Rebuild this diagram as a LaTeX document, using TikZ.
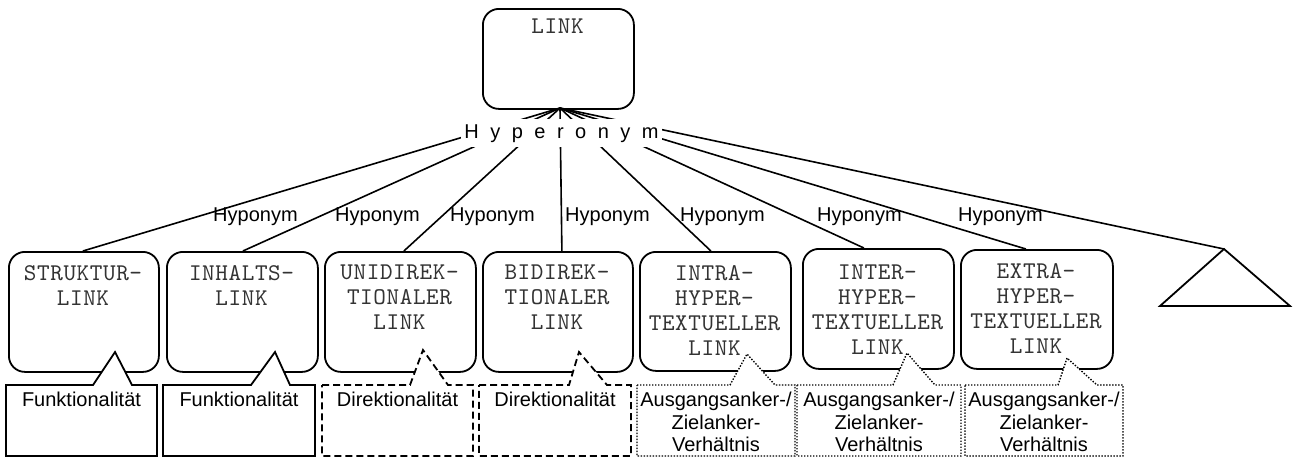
\documentclass[tikz,border=0pt]{standalone}
\usepackage{fontspec}
\setmainfont{Liberation Sans}
\newfontfamily\lmmono{lmmono10-regular.otf}[LetterSpace=2.5]
\newcommand\hypsp{\hspace{11.5pt}}
\tikzset{
  rbox/.style={draw, line width=1.8pt, rounded corners=16pt, anchor=north west, inner sep=0pt},
  btext/.style={font=\lmmono\fontsize{24}{25}\selectfont, text=black!80, align=center, anchor=north, inner sep=0pt},
  conn/.style={line width=1.6pt},
  lab/.style={font=\fontsize{20}{22.5}\selectfont, anchor=base west, inner sep=0pt},
  ctext/.style={font=\fontsize{20}{22.5}\selectfont, align=center, anchor=north, inner sep=0pt},
  csolid/.style={draw, fill=white, line width=1.8pt},
  cdash/.style={csolid, dash pattern=on 7pt off 4pt},
  cdot/.style={draw, fill=white, line width=1.4pt, dash pattern=on 1.4pt off 1.6pt},
}
\begin{document}
\begin{tikzpicture}[x=1pt,y=-1pt]
\useasboundingbox (0,0) rectangle (1294,459);
% boxes
\node[rbox, minimum width=151pt, minimum height=100pt] (link) at (482,8) {};
\node[rbox, minimum width=150pt, minimum height=120pt] (struk) at (8,251) {};
\node[rbox, minimum width=151pt, minimum height=120pt] (inhalt) at (166,251) {};
\node[rbox, minimum width=151pt, minimum height=120pt] (uni) at (324,251) {};
\node[rbox, minimum width=150pt, minimum height=120pt] (bi) at (482,251) {};
\node[rbox, minimum width=151pt, minimum height=119pt] (intra) at (639,251) {};
\node[rbox, minimum width=151pt, minimum height=120pt] (inter) at (802,248) {};
\node[rbox, minimum width=152pt, minimum height=119pt] (extra) at (960,249) {};
\coordinate (hub) at (560,108);
\coordinate (tri) at (1224,249);
\coordinate (trir) at (1290,306);
\coordinate (tril) at (1160,306);
\draw[line width=1.8pt, line join=miter] (tri) -- (trir) -- (tril) -- cycle;
% connectors
\draw[conn] (hub) -- ([xshift=-1pt]struk.north);
\draw[conn] (hub) -- ([xshift=0.5pt]inhalt.north);
\draw[conn] (hub) -- ([xshift=3.5pt]uni.north);
\draw[conn] (hub) -- ([xshift=4pt]bi.north);
\draw[conn] (hub) -- ([xshift=-4.5pt]intra.north);
\draw[conn] (hub) -- ([xshift=-14.5pt]inter.north);
\draw[conn] (hub) -- ([xshift=-11pt]extra.north);
\draw[conn] (hub) -- (tri);
\node[fill=white, inner xsep=3pt, inner ysep=5pt, anchor=base, font=\fontsize{20}{22}\selectfont] (hyper) at (561.5,138)
  {H\hypsp y\hypsp p\hypsp e\hypsp r\hypsp o\hypsp n\hypsp y\hypsp m};
% hyponym labels
\node[lab] (h1) at (213,221) {Hyponym};
\node[lab] (h2) at (335,221) {Hyponym};
\node[lab] (h3) at (450,221) {Hyponym};
\node[lab] (h4) at (565,221) {Hyponym};
\node[lab] (h5) at (680,221) {Hyponym};
\node[lab] (h6) at (817,221) {Hyponym};
\node[lab] (h7) at (958,221) {Hyponym};
% box texts
\node[btext] (linkt) at (557.5,19) {LINK};
\node[btext] (strukt) at (83,265) {STRUKTUR-\\LINK};
\node[btext] (inhaltt) at (241.5,265) {INHALTS-\\LINK};
\node[btext] (unit) at (399.5,265) {UNIDIREK-\\TIONALER\\LINK};
\node[btext] (bit) at (557,265) {BIDIREK-\\TIONALER\\LINK};
\node[btext] (intrat) at (714.5,265) {INTRA-\\HYPER-\\TEXTUELLER\\LINK};
\node[btext] (intert) at (877.5,265) {INTER-\\HYPER-\\TEXTUELLER\\LINK};
\node[btext] (extrat) at (1036,263) {EXTRA-\\HYPER-\\TEXTUELLER\\LINK};
% callouts
\draw[csolid] (6,385) -- (93,385) -- (115,352) -- (132,385) -- (157,385) -- (157,456) -- (6,456) -- cycle;
\draw[csolid] (163,385) -- (251,385) -- (275,352) -- (290,385) -- (315,385) -- (315,456) -- (163,456) -- cycle;
\draw[cdash] (322,385) -- (410,385) -- (423,350) -- (448,385) -- (473,385) -- (473,456) -- (322,456) -- cycle;
\draw[cdash] (479,385) -- (569,385) -- (579,352) -- (607,385) -- (631,385) -- (631,456) -- (479,456) -- cycle;
\draw[cdot] (637,385) -- (730,385) -- (747,354) -- (775,385) -- (795,385) -- (795,456) -- (637,456) -- cycle;
\draw[cdot] (797,385) -- (893,385) -- (907,353) -- (935,385) -- (961,385) -- (961,456) -- (797,456) -- cycle;
\draw[cdot] (965,385) -- (1058,385) -- (1067,358) -- (1097,385) -- (1123,385) -- (1123,456) -- (965,456) -- cycle;
\node[ctext] (c1) at (81.5,392) {Funktionalität};
\node[ctext] (c2) at (239,392) {Funktionalität};
\node[ctext] (c3) at (397.5,392) {Direktionalität};
\node[ctext] (c4) at (555,392) {Direktionalität};
\node[ctext] (c5) at (716,392) {Ausgangsanker-/\\Zielanker-\\Verhältnis};
\node[ctext] (c6) at (879,392) {Ausgangsanker-/\\Zielanker-\\Verhältnis};
\node[ctext] (c7) at (1044,392) {Ausgangsanker-/\\Zielanker-\\Verhältnis};
\end{tikzpicture}
\end{document}
